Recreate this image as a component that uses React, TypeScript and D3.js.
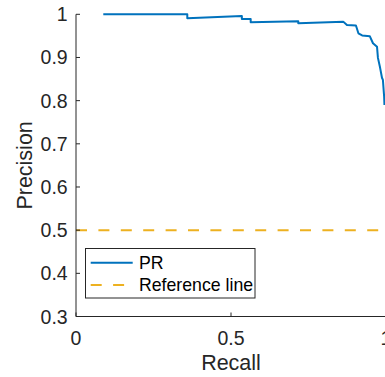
import React from "react";
import * as d3 from "d3";

const recall = [0.088, 0.359, 0.359, 0.535, 0.535, 0.5635, 0.5635, 0.717, 0.717, 0.862, 0.874, 0.903, 0.911, 0.923, 0.948, 0.958, 0.971, 0.974, 0.981, 0.987, 0.99, 0.994, 0.995];
const precision = [1.0, 1.0, 0.9907, 0.996, 0.989, 0.989, 0.9815, 0.9838, 0.979, 0.983, 0.975, 0.974, 0.956, 0.951, 0.949, 0.933, 0.925, 0.899, 0.876, 0.853, 0.848, 0.809, 0.79];
const referenceLevel = 0.5;
const xTicks = [0, 0.5, 1];
const yTicks = [0.3, 0.4, 0.5, 0.6, 0.7, 0.8, 0.9, 1];
const legendLabels = ["PR", "Reference line"];

const BLUE = "#0072BD";
const YELLOW = "#EDB120";
const AX = "#262626";
const FONT = "'Liberation Sans', Arial, Helvetica, sans-serif";

export default function App() {
  const x = d3.scaleLinear().domain([0, 1]).range([76, 386]);
  const y = d3.scaleLinear().domain([0.3, 1]).range([316.5, 14.3]);
  const pts: [number, number][] = recall.map((r, i) => [r, precision[i]]);
  const line = d3
    .line<[number, number]>()
    .x((d) => x(d[0]))
    .y((d) => y(d[1]));

  const x0 = x(0);
  const yb = y(0.3);
  const tick = 4;

  return (
    <svg
      width={385}
      height={377}
      style={{ position: "fixed", left: 0, top: 0, background: "#fff" }}
      fontFamily={FONT}
    >
      <rect x={0} y={0} width={385} height={377} fill="#fff" />
      {/* reference line */}
      <line
        x1={x0}
        x2={x(1.05)}
        y1={y(referenceLevel)}
        y2={y(referenceLevel)}
        stroke={YELLOW}
        strokeWidth={2}
        strokeDasharray="11,11.4"
      />
      {/* PR curve */}
      <path d={line(pts) || ""} fill="none" stroke={BLUE} strokeWidth={2} strokeLinejoin="round" />

      {/* axes */}
      <line x1={x0} x2={x0} y1={y(1)} y2={yb} stroke={AX} strokeWidth={1} />
      <line x1={x0} x2={400} y1={yb} y2={yb} stroke={AX} strokeWidth={1} />
      {yTicks.map((t) => (
        <g key={"y" + t}>
          <line x1={x0} x2={x0 + tick} y1={y(t)} y2={y(t)} stroke={AX} strokeWidth={1} />
          <text
            x={x0 - 8.3}
            y={y(t)}
            dy="0.36em"
            textAnchor="end"
            fontSize={19.5}
            fill={AX}
          >
            {t === 1 ? "1" : t.toFixed(1)}
          </text>
        </g>
      ))}
      {xTicks.map((t) => (
        <g key={"x" + t}>
          <line x1={x(t)} x2={x(t)} y1={yb} y2={yb - tick} stroke={AX} strokeWidth={1} />
          <text x={x(t)} y={345} textAnchor="middle" fontSize={19.5} fill={AX}>
            {t === 0 ? "0" : t === 1 ? "1" : String(t)}
          </text>
        </g>
      ))}
      <text x={231} y={369.5} textAnchor="middle" fontSize={21.5} fill={AX}>
        Recall
      </text>
      <text
        transform={`translate(31.5,${(y(1) + yb) / 2}) rotate(-90)`}
        textAnchor="middle"
        fontSize={21.5}
        fill={AX}
      >
        Precision
      </text>

      {/* legend */}
      <rect x={85.5} y={248.5} width={169.5} height={49.5} fill="#fff" stroke={AX} strokeWidth={1} />
      <line x1={90.7} x2={132.7} y1={262.7} y2={262.7} stroke={BLUE} strokeWidth={2} />
      <line
        x1={90.7}
        x2={132.7}
        y1={285}
        y2={285}
        stroke={YELLOW}
        strokeWidth={2}
        strokeDasharray="11,11.4"
      />
      <text x={139} y={262.7} dy="0.36em" fontSize={17.7} fill="#000">
        {legendLabels[0]}
      </text>
      <text x={139} y={285} dy="0.36em" fontSize={17.7} fill="#000">
        {legendLabels[1]}
      </text>
    </svg>
  );
}
